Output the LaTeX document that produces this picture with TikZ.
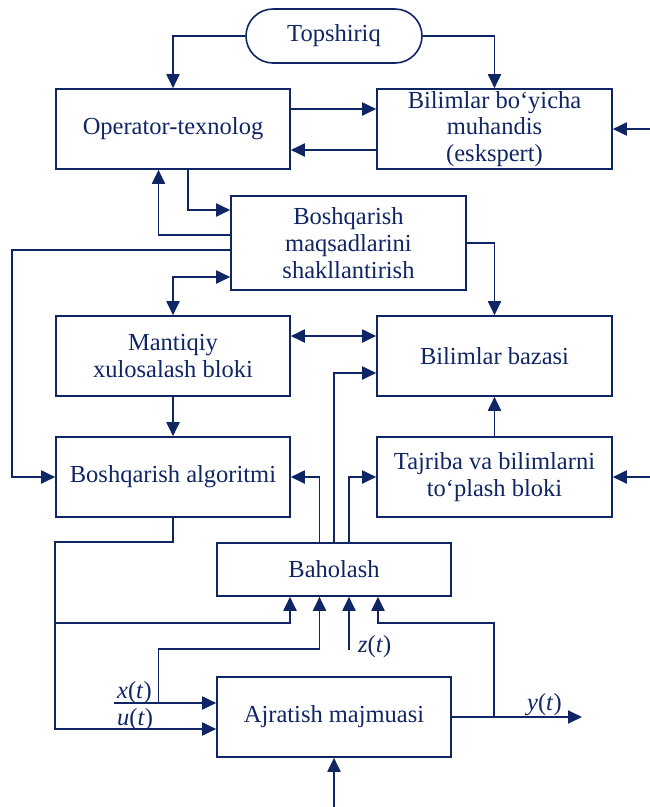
\documentclass[tikz,border=0pt]{standalone}
\usepackage{fontspec}
\setmainfont{Liberation Serif}
\newfontfamily\diagfont{Liberation Serif}
\usetikzlibrary{arrows.meta,calc}
\definecolor{navy}{RGB}{16,38,100}
\begin{document}
\begin{tikzpicture}[x=1pt,y=-1pt,
  every node/.style={text=navy,font=\diagfont\fontsize{24.5}{26.7}\selectfont},
  blk/.style={draw=navy,line width=1.6pt,minimum width=234pt,minimum height=80pt,align=center,inner sep=0pt},
  conn/.style={draw=navy,line width=1.9pt},
  arr/.style={conn,-{Triangle[length=14pt,width=13pt]}},
  dbl/.style={conn,{Triangle[length=14pt,width=13pt]}-{Triangle[length=14pt,width=13pt]}},
  lbl/.style={anchor=base west,inner sep=0pt}]
\useasboundingbox (0,0) rectangle (649,807);

% blocks
\node[blk,rounded corners=27pt,minimum width=176pt,minimum height=54pt] (task) at (334,36) {Topshiriq};
\node[blk] (op) at (173,129) {Operator-texnolog};
\node[blk,minimum width=235pt] (eng) at (494.5,129) {Bilimlar bo‘yicha\\muhandis\\(eskspert)};
\node[blk,minimum width=235pt,minimum height=94pt] (goal) at (348.5,243) {Boshqarish\\maqsadlarini\\shakllantirish};
\node[blk] (inf) at (173,356) {Mantiqiy\\xulosalash bloki};
\node[blk,minimum width=235pt] (kb) at (494.5,356) {Bilimlar bazasi};
\node[blk] (alg) at (173,477) {Boshqarish algoritmi};
\node[blk,minimum width=235pt] (acc) at (494.5,477) {Tajriba va bilimlarni\\to‘plash bloki};
\node[blk,minimum height=53pt] (est) at (334,569.5) {Baholash};
\node[blk] (sep) at (334,717) {Ajratish majmuasi};

% free ends and junctions
\coordinate (r1) at (652,129);
\coordinate (r2) at (652,477);
\coordinate (jL) at (56,623);
\coordinate (jX) at (158.5,703);
\coordinate (jY) at (494,717);
\coordinate (xin) at (114,703);
\coordinate (uin) at ([yshift=-12pt]sep.west);
\coordinate (zin) at (349,650);
\coordinate (yout) at (582,717);
\coordinate (bin) at (334,810);

% top part
\draw[arr] (task.west) -| (op.north);
\draw[arr] (task.east) -| (eng.north);
\draw[arr] ([yshift=20pt]op.east) -- ([yshift=20pt]eng.west);
\draw[arr] ([yshift=-21pt]eng.west) -- ([yshift=-21pt]op.east);
\draw[arr] (r1) -- (eng.east);
\draw[arr] ([yshift=8pt]goal.west) -| ([xshift=-14.5pt]op.south);
\draw[arr] ([xshift=15pt]op.south) |- ([yshift=33pt]goal.west);
\draw[arr] ([yshift=-7pt]goal.west) -- ++(-218,0) |- (alg.west);
\draw[dbl] ([yshift=-34pt]goal.west) -| (inf.north);
\draw[arr] (goal.east) -| (kb.north);

% middle part
\draw[dbl] ([yshift=20pt]inf.east) -- ([yshift=20pt]kb.west);
\draw[arr] (inf.south) -- (alg.north);
\draw[arr] (acc.north) -- (kb.south);
\draw[arr] (r2) -- (acc.east);
\draw[arr] ([xshift=-14.5pt]est.north) |- (alg.east);
\draw[arr] (est.north) |- ([yshift=-17pt]kb.west);
\draw[arr] ([xshift=15pt]est.north) |- (acc.west);

% bottom part
\draw[arr] (alg.south) -- (alg.south |- est.north) -- (alg.south west |- est.north) -- (alg.south west |- uin) -- (uin);
\draw[arr] (jL) -| ([xshift=-44pt]est.south);
\draw[arr] (xin) -- ([yshift=14pt]sep.west);
\draw[arr] (jX) -- ++(0,-54) -| ([xshift=-14.5pt]est.south);
\draw[arr] (zin) -- (zin |- est.south);
\draw[arr] (sep.east) -- (yout);
\draw[arr] (jY) -- ++(0,-94) -| ([xshift=44pt]est.south);
\draw[arr] (bin) -- (sep.south);

% signal labels
\node[lbl] (lx) at (117,698) {\textit{x}(\textit{t})};
\node[lbl] (lu) at (117,725) {\textit{u}(\textit{t})};
\node[lbl] (lz) at (358,652) {\textit{z}(\textit{t})};
\node[lbl] (ly) at (527,710) {\textit{y}(\textit{t})};
\end{tikzpicture}
\end{document}
